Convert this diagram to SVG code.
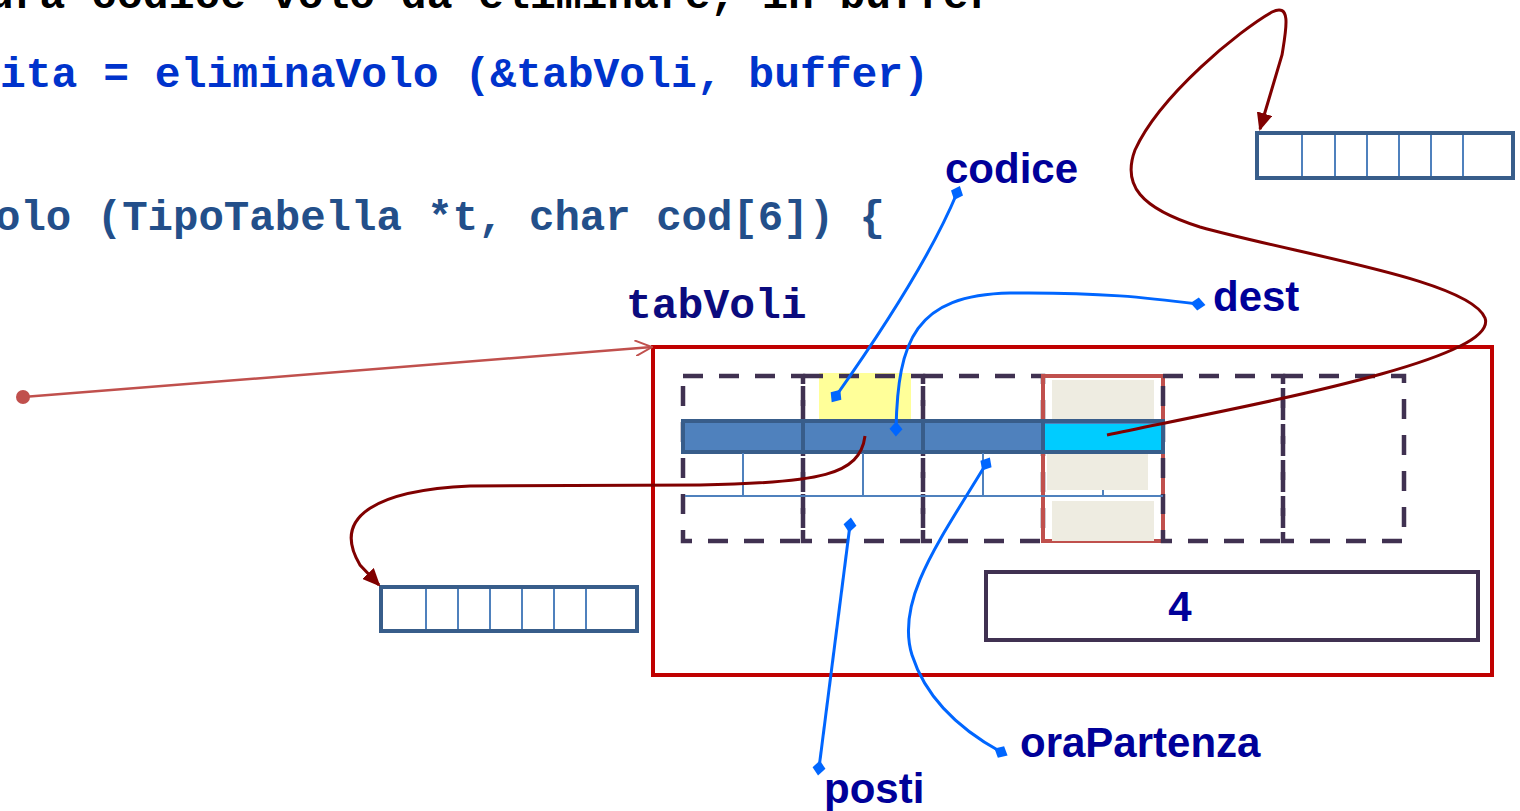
<svg xmlns="http://www.w3.org/2000/svg" width="1520" height="811" viewBox="0 0 1520 811">
<style>
.code{font-family:"Liberation Mono","Courier New",monospace;font-weight:bold;font-size:43px}
.lbl{font-family:"Liberation Sans",Arial,sans-serif;font-weight:bold;font-size:42px;fill:#000099}
.dash{fill:none;stroke:#403151;stroke-width:4.5;stroke-dasharray:20 16}
.arr{fill:#fff;stroke:#385D8A;stroke-width:4}
.div{stroke:#4F81BD;stroke-width:2}
.blue{fill:none;stroke:#0066FF;stroke-width:3;marker-start:url(#dia);marker-end:url(#dia)}
.ptr{fill:none;stroke:#800000;stroke-width:3;marker-end:url(#ah)}
.beige{fill:#EEECE1}
</style>
<defs>
<marker id="dia" viewBox="-8 -8 16 16" markerWidth="16" markerHeight="16" markerUnits="userSpaceOnUse" orient="auto">
<path d="M-7.5,0 L0,-6.5 L7.5,0 L0,6.5 Z" fill="#0066FF"/>
</marker>
<marker id="ah" viewBox="0 -8 18 16" refX="16" refY="0" markerWidth="18" markerHeight="16" markerUnits="userSpaceOnUse" orient="auto">
<path d="M0,-8 L18,0 L0,8 Z" fill="#800000"/>
</marker>
<marker id="oa" viewBox="0 -8 18 16" refX="17" refY="0" markerWidth="18" markerHeight="16" markerUnits="userSpaceOnUse" orient="auto">
<path d="M0,-8 L17,0 L0,8" fill="none" stroke="#C0504D" stroke-width="2"/>
</marker>
</defs>

<g id="code">
<text class="code" x="-12" y="8" fill="#000000">ura codice volo da eliminare, in buffer</text>
<text class="code" x="0" y="87" fill="#0033CC">ita = eliminaVolo (&amp;tabVoli, buffer)</text>
<text class="code" x="-5" y="230" fill="#234F8A" font-size="42.5" textLength="890" lengthAdjust="spacingAndGlyphs">olo (TipoTabella *t, char cod[6]) {</text>
</g>

<g id="tabVoli">
<text class="code" x="626" y="318" fill="#0B0B7E">tabVoli</text>
<rect x="653" y="347" width="839" height="328" fill="none" stroke="#C00000" stroke-width="4"/>
</g>

<g id="cells">
<rect x="819" y="373" width="92" height="47" fill="#FFFF99"/>
<rect class="dash" x="683" y="376" width="120" height="165"/>
<rect class="dash" x="803" y="376" width="120" height="165"/>
<rect class="dash" x="923" y="376" width="120" height="165"/>
<rect x="1043" y="376" width="120" height="165" fill="none" stroke="#C0504D" stroke-width="4"/>
<rect class="beige" x="1052" y="380" width="102" height="40"/>
<rect class="beige" x="1047" y="450" width="101" height="40"/>
<rect class="beige" x="1052" y="501" width="102" height="40"/>
<rect class="dash" x="1163" y="376" width="120" height="165"/>
<rect class="dash" x="1283" y="376" width="121" height="165"/>
</g>

<g id="bar">
<rect x="683" y="421" width="480" height="31" fill="#4F81BD" stroke="#385D8A" stroke-width="4"/>
<rect x="1045" y="424" width="116" height="26" fill="#00CCFF"/>
<line x1="803" y1="421" x2="803" y2="452" stroke="#385D8A" stroke-width="4"/>
<line x1="923" y1="421" x2="923" y2="452" stroke="#385D8A" stroke-width="4"/>
<line x1="1043" y1="421" x2="1043" y2="452" stroke="#385D8A" stroke-width="4"/>
<line class="div" x1="685" y1="496" x2="1163" y2="496"/>
<line class="div" x1="743" y1="453" x2="743" y2="496"/>
<line class="div" x1="863" y1="453" x2="863" y2="496"/>
<line class="div" x1="983" y1="453" x2="983" y2="496"/>
<line class="div" x1="1103" y1="490" x2="1103" y2="496"/>
</g>

<g id="count">
<rect x="986" y="572" width="492" height="68" fill="none" stroke="#403151" stroke-width="4"/>
<text class="lbl" x="1180" y="621" text-anchor="middle" font-size="40">4</text>
</g>

<g id="arrayLeft">
<rect class="arr" x="381" y="587" width="256" height="44"/>
<line class="div" x1="426" y1="589" x2="426" y2="629"/>
<line class="div" x1="458" y1="589" x2="458" y2="629"/>
<line class="div" x1="490" y1="589" x2="490" y2="629"/>
<line class="div" x1="522" y1="589" x2="522" y2="629"/>
<line class="div" x1="554" y1="589" x2="554" y2="629"/>
<line class="div" x1="586" y1="589" x2="586" y2="629"/>
</g>

<g id="arrayRight">
<rect class="arr" x="1257" y="133" width="256" height="45"/>
<line class="div" x1="1302" y1="135" x2="1302" y2="176"/>
<line class="div" x1="1335" y1="135" x2="1335" y2="176"/>
<line class="div" x1="1367" y1="135" x2="1367" y2="176"/>
<line class="div" x1="1399" y1="135" x2="1399" y2="176"/>
<line class="div" x1="1431" y1="135" x2="1431" y2="176"/>
<line class="div" x1="1463" y1="135" x2="1463" y2="176"/>
</g>

<g id="labels">
<text class="lbl" x="945" y="183">codice</text>
<text class="lbl" x="1213" y="311">dest</text>
<text class="lbl" x="1020" y="757">oraPartenza</text>
<text class="lbl" x="824" y="803">posti</text>
</g>

<g id="connectors">
<line x1="23" y1="397" x2="652" y2="347" stroke="#C0504D" stroke-width="2.5" marker-end="url(#oa)"/>
<circle cx="23" cy="397" r="7" fill="#C0504D"/>
<path class="ptr" d="M865,436 C860,475 820,483 700,485 L470,486 C380,490 330,515 360,565 L379,585"/>
<path class="ptr" d="M1107,435 C1250,405 1500,360 1485,318 C1470,280 1300,255 1200,227 C1140,208 1122,185 1135,150 C1160,95 1240,30 1272,12 C1292,2 1286,30 1282,55 L1260,129"/>
<path class="blue" d="M836,396 Q925,270 957,193"/>
<path class="blue" d="M896,429 C898,340 915,295 1010,293 C1100,292 1150,298 1198,304"/>
<path class="blue" d="M986,464 C940,540 895,600 912,655 C928,705 970,735 1001,752"/>
<path class="blue" d="M850,525 L819,768"/>
</g>
</svg>
